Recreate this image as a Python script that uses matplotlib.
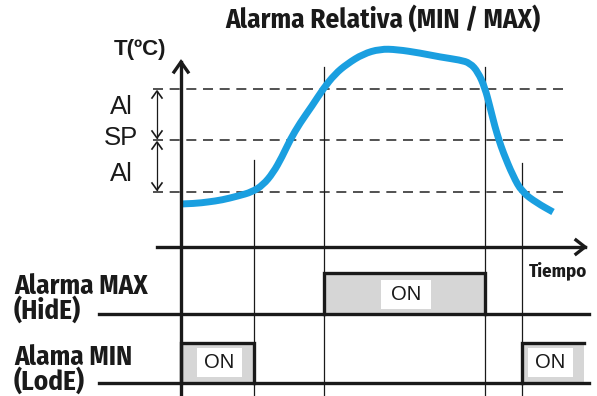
import matplotlib
matplotlib.use("Agg")
import matplotlib.pyplot as plt
from matplotlib.patches import Rectangle, PathPatch
from matplotlib.path import Path

# ---- data (diagram coordinates, pixel-like units, y grows downward) ----
curve_x = [181, 195, 208, 222, 238, 252, 263, 273, 282, 290, 300, 312, 323, 335, 347,
           363, 380, 397, 420, 440, 460, 470, 478, 485, 490, 495, 499, 503, 513, 522, 537, 553]
curve_y = [204, 203.5, 202, 200, 196, 192, 185, 173, 157, 140, 123, 106, 89, 74, 64,
           54, 49, 49.5, 53, 57, 60, 63, 72, 88, 107, 127, 140, 152, 176, 192, 203, 212]

level_labels = ["Al", "SP", "Al"]
level_values = [89, 140, 192]          # AI-high, SP, AI-low
label_y = [107, 138, 174]

event_x = [254, 324, 485, 522]
event_top = [160, 67, 67, 163]

max_on = [(324, 485)]
min_on = [(181, 254), (522, 584)]
max_label_pos = [(406, 294)]
min_label_pos = [(219, 362), (550, 362)]

# ---- figure ----
fig = plt.figure(figsize=(5.97, 3.96), dpi=100)
ax = fig.add_axes([0, 0, 1, 1])
ax.set_xlim(0, 597)
ax.set_ylim(396, 0)
ax.axis("off")

NARROW = ["Fira Sans Condensed", "Roboto Condensed", "DejaVu Sans"]
ARIAL = ["Liberation Sans", "DejaVu Sans"]
dark = "#1a1a1a"

# dashed levels
for lv in level_values:
    ax.plot([153, 568], [lv, lv], color="#333333", lw=1.2, dashes=(6, 4), zorder=2)

# event vertical lines
for ex, et in zip(event_x, event_top):
    ax.plot([ex, ex], [et, 396], color=dark, lw=0.9, zorder=2)

# temperature curve, smoothed with quadratic Bezier segments through midpoints
pts = list(zip(curve_x, curve_y))
verts = [pts[0]]
codes = [Path.MOVETO]
for i in range(1, len(pts) - 1):
    mid = ((pts[i][0] + pts[i + 1][0]) / 2, (pts[i][1] + pts[i + 1][1]) / 2)
    verts += [pts[i], mid]
    codes += [Path.CURVE3, Path.CURVE3]
verts.append(pts[-1])
codes.append(Path.LINETO)
ax.add_patch(PathPatch(Path(verts, codes), facecolor="none", edgecolor="#1a9fe0",
                       lw=5, capstyle="butt", joinstyle="round", zorder=4))

# vertical axis with chevron arrow
ax.plot([181, 181], [396, 62], color=dark, lw=2.4, zorder=5)
ax.plot([174, 181, 188], [72, 62, 72], color=dark, lw=2.4, zorder=5,
        solid_joinstyle="miter")
# time axis
ax.plot([157, 585], [247, 247], color=dark, lw=2.4, zorder=5)
ax.plot([576, 585, 576], [240, 247, 254], color=dark, lw=2.4, zorder=5,
        solid_joinstyle="miter")

# double-headed arrows for Al bands
ax_x = 157
for top, bot in [(level_values[0], level_values[1]), (level_values[1], level_values[2])]:
    ax.plot([ax_x, ax_x], [top + 2, bot - 2], color=dark, lw=0.9, zorder=3)
    ax.plot([ax_x - 5, ax_x, ax_x + 5], [top + 9, top + 2, top + 9], color=dark, lw=1.2, zorder=3)
    ax.plot([ax_x - 5, ax_x, ax_x + 5], [bot - 9, bot - 2, bot - 9], color=dark, lw=1.2, zorder=3)

for lab, y in zip(level_labels, label_y):
    ax.text(121, y, lab, family=ARIAL, fontsize=18.5, ha="center", va="center", color=dark)

ax.text(140, 50, "T(ºC)", family=ARIAL, fontsize=16, weight="bold", ha="center",
        va="center", color=dark)

# title
ax.text(383, 19, "Alarma Relativa (MIN / MAX)", family=NARROW, fontsize=19.5,
        weight="bold", ha="center", va="center", color=dark)
ax.text(558, 271, "Tiempo", family=NARROW, fontsize=13.5, weight="bold",
        ha="center", va="center", color=dark)

# digital outputs
def draw_channel(base, top, spans, label_pos):
    ax.plot([99, 589], [base, base], color=dark, lw=2.4, zorder=5)
    for (x0, x1) in spans:
        ax.add_patch(Rectangle((x0, top), x1 - x0, base - top, facecolor="#d6d6d6",
                               edgecolor="none", zorder=3))
        xs = [x0, x0, x1] + ([x1] if x1 < 580 else [])
        ys = [base, top, top] + ([base] if x1 < 580 else [])
        ax.plot(xs, ys, color=dark, lw=2.4, zorder=5, solid_joinstyle="miter")
    for (lx, ly) in label_pos:
        w = 50 if lx > 300 and lx < 500 else 45
        ax.add_patch(Rectangle((lx - w / 2, ly - 14.5), w, 29, facecolor="white",
                               edgecolor="none", zorder=5.5))
        ax.text(lx, ly + 0.5, "ON", family=ARIAL, fontsize=14.5, ha="center", va="center",
                color=dark, zorder=6)

draw_channel(314, 273, max_on, max_label_pos)
draw_channel(383, 343, min_on, min_label_pos)

ax.text(14, 299, "Alarma MAX\n(HidE)", family=NARROW, fontsize=19.5, weight="bold",
        ha="left", va="center", color=dark, linespacing=0.85)
ax.text(14, 370, "Alama MIN\n(LodE)", family=NARROW, fontsize=19.5, weight="bold",
        ha="left", va="center", color=dark, linespacing=0.85)

fig.savefig("out.png", dpi=100, facecolor="white")
